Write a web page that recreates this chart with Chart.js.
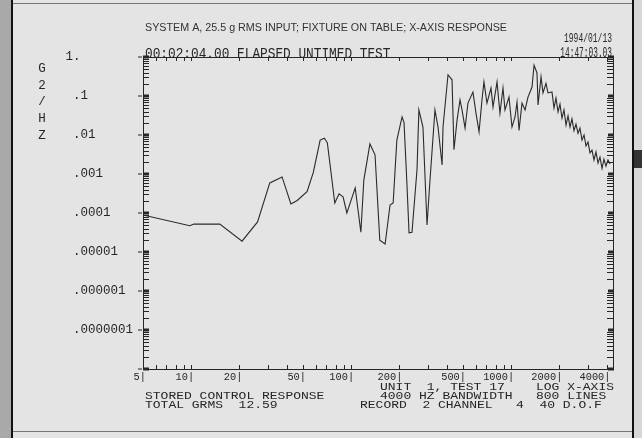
<!DOCTYPE html>
<html>
<head>
<meta charset="utf-8">
<script src="https://cdn.jsdelivr.net/npm/chart.js@4/dist/chart.umd.min.js"></script>
<style>
html, body { margin: 0; padding: 0; background: #e4e4e4; overflow: hidden; }
canvas { display: block; }
</style>
</head>
<body>
<canvas id="psdChart" width="642" height="438"></canvas>
<script>
// frequency (Hz) and PSD (g^2/Hz)
const freqs = [5, 9.8, 10.4, 15.1, 20.8, 26, 31, 37, 42, 46, 53, 58, 64, 68, 71, 79, 84, 89, 94, 106,
  115, 120, 131, 141, 151, 163, 175, 183, 193, 208, 214, 223, 230, 240, 258, 265, 281, 298, 311, 334,
  349, 370, 375, 403, 427, 439, 459, 479, 493, 515, 537, 577, 603, 630, 657, 676, 706, 748, 770, 816,
  851, 889, 915, 969, 1012, 1057, 1088, 1120, 1169, 1221, 1274, 1350, 1390, 1450, 1472, 1537, 1581, 1651, 1699, 1799,
  1853, 1906, 1963, 2019, 2078, 2139, 2203, 2267, 2333, 2398, 2470, 2542, 2617, 2691, 2772, 2854, 2937, 3022, 3110, 3200,
  3294, 3390, 3490, 3590, 3698, 3801, 3913, 4028, 4148];
const psd = [8.9e-5, 4.7e-5, 5.2e-5, 5.2e-5, 1.9e-5, 5.9e-5, 5.9e-4, 8.4e-4, 1.7e-4, 2.1e-4, 3.5e-4, 1.1e-3, 7.4e-3, 8.3e-3, 6.3e-3, 1.8e-4, 3.1e-4, 2.6e-4, 1.0e-4, 4.4e-4,
  3.2e-5, 7e-4, 5.9e-3, 3.1e-3, 2e-5, 1.6e-5, 1.6e-4, 1.8e-4, 7.4e-3, 0.029, 0.021, 5.9e-4, 3.1e-5, 3.2e-5, 1.3e-3, 0.044, 0.016, 4.9e-5, 7e-4, 0.044,
  0.016, 1.7e-3, 0.016, 0.35, 0.26, 4.2e-3, 0.024, 0.079, 0.044, 0.015, 0.066, 0.126, 0.036, 0.012, 0.079, 0.23, 0.066, 0.16, 0.052, 0.23,
  0.036, 0.16, 0.044, 0.094, 0.016, 0.029, 0.07, 0.013, 0.066, 0.044, 0.094, 0.17, 0.62, 0.39, 0.059, 0.31, 0.12, 0.21, 0.12, 0.127,
  0.049, 0.089, 0.039, 0.062, 0.027, 0.044, 0.018, 0.031, 0.016, 0.026, 0.013, 0.019, 0.011, 0.015, 7.4e-3, 0.01, 5.2e-3, 6.6e-3, 3.5e-3, 4.1e-3,
  2.3e-3, 3.7e-3, 1.9e-3, 2.7e-3, 1.4e-3, 2.4e-3, 1.6e-3, 2.3e-3, 1.8e-3];

const xTicks = [5, 10, 20, 50, 100, 200, 500, 1000, 2000, 4000];
const yTicks = [1, 0.1, 0.01, 0.001, 0.0001, 0.00001, 0.000001, 0.0000001];
const yTickLabels = ['1.', '.1', '.01', '.001', '.0001', '.00001', '.000001', '.0000001'];
const yTitle = ['G', '2', '/', 'H', 'Z'];

const MONO = '"Liberation Mono", "DejaVu Sans Mono", monospace';
const INK = '#262626';

// draw monospace text stretched to a fixed character pitch
function monoText(ctx, s, x, y, pitch, size, align) {
  ctx.save();
  ctx.font = size + 'px ' + MONO;
  const adv = ctx.measureText(s).width / s.length;
  let left = x;
  if (align === 'right') left = x - pitch * s.length;
  if (align === 'center') left = x - pitch * s.length / 2;
  ctx.translate(left, y);
  ctx.scale(pitch / adv, 1);
  ctx.textAlign = 'left';
  ctx.textBaseline = 'alphabetic';
  ctx.fillStyle = INK;
  ctx.fillText(s, 0, 0);
  ctx.restore();
}

const plotterDecor = {
  id: 'plotterDecor',
  beforeDraw(chart) {
    const ctx = chart.ctx;
    ctx.save();
    ctx.fillStyle = '#e4e4e4';
    ctx.fillRect(0, 0, 642, 438);
    ctx.fillStyle = '#a9a9a9';
    ctx.fillRect(0, 0, 11, 438);
    ctx.fillStyle = '#111';
    ctx.fillRect(11, 0, 2, 438);
    ctx.fillRect(632, 0, 2, 438);
    ctx.fillStyle = '#d8d8d8';
    ctx.fillRect(634, 0, 8, 438);
    ctx.fillStyle = '#333';
    ctx.fillRect(634, 150, 8, 18);
    ctx.fillStyle = '#777';
    ctx.fillRect(13, 3, 619, 1);
    ctx.fillRect(13, 431, 619, 1);
    ctx.restore();
  },
  afterDraw(chart) {
    const ctx = chart.ctx;
    const xs = chart.scales.x, ys = chart.scales.y;
    const a = chart.chartArea;
    ctx.save();
    ctx.strokeStyle = INK;
    ctx.fillStyle = INK;
    ctx.lineWidth = 1;
    ctx.strokeRect(a.left + 0.5, a.top + 0.5, a.right - a.left, a.bottom - a.top);

    // y ticks: minor marks inside both side axes, blocks at decades
    ctx.beginPath();
    for (let e = -8; e <= 0; e++) {
      for (let k = 1; k <= 9; k++) {
        const v = k * Math.pow(10, e);
        if (v > 1) break;
        const py = Math.round(ys.getPixelForValue(v)) + 0.5;
        if (k === 1) {
          ctx.fillRect(a.left, py - 2, 6, 3);
          ctx.fillRect(a.right - 5, py - 2, 6, 3);
          ctx.fillRect(a.left - 5, py - 1, 4, 1);
        } else {
          ctx.moveTo(a.left, py); ctx.lineTo(a.left + 6, py);
          ctx.moveTo(a.right, py); ctx.lineTo(a.right - 6, py);
        }
      }
    }
    // x ticks on top and bottom axes
    for (let e = 0; e <= 3; e++) {
      for (let k = 1; k <= 9; k++) {
        const v = k * Math.pow(10, e);
        if (v < xs.min || v > xs.max) continue;
        const px = Math.round(xs.getPixelForValue(v)) + 0.5;
        ctx.moveTo(px, a.bottom); ctx.lineTo(px, a.bottom - 4);
        ctx.moveTo(px, a.top); ctx.lineTo(px, a.top + 4);
      }
    }
    ctx.stroke();

    // y tick labels, decimal points lined up
    yTicks.forEach((v, i) => {
      const py = ys.getPixelForValue(v);
      const lab = yTickLabels[i];
      const dot = lab.indexOf('.');
      monoText(ctx, lab, 73 - dot * 7.5, py + 3, 7.5, 12);
    });
    // y title
    yTitle.forEach((ch, i) => monoText(ctx, ch, 42, 72 + i * 16.7, 7.5, 12, 'center'));
    // x tick labels with plotter bar at the tick
    xTicks.forEach(v => {
      const px = xs.getPixelForValue(v);
      monoText(ctx, v + '|', px + 3, 380, 6.2, 11, 'right');
    });

    // header
    ctx.save();
    ctx.font = '10px "Liberation Sans", Arial, sans-serif';
    const title = 'SYSTEM A, 25.5 g RMS INPUT; FIXTURE ON TABLE; X-AXIS RESPONSE';
    const tw = ctx.measureText(title).width;
    ctx.translate(145, 31);
    ctx.scale(362 / tw, 1);
    ctx.fillStyle = '#333';
    ctx.fillText(title, 0, 0);
    ctx.restore();
    monoText(ctx, '00:02:04.00 ELAPSED UNTIMED TEST', 145, 58, 7.67, 15);
    monoText(ctx, '1994/01/13', 612, 42, 4.8, 13, 'right');
    monoText(ctx, '14:47:03.03', 612, 57, 4.7, 14, 'right');

    // footer
    monoText(ctx, 'UNIT  1, TEST 17    LOG X-AXIS', 380, 390, 7.8, 10.5);
    monoText(ctx, 'STORED CONTROL RESPONSE', 145, 399, 7.8, 10.5);
    monoText(ctx, '4000 HZ BANDWIDTH   800 LINES', 380, 399, 7.8, 10.5);
    monoText(ctx, 'TOTAL GRMS  12.59', 145, 408, 7.8, 10.5);
    monoText(ctx, 'RECORD  2 CHANNEL   4  40 D.O.F', 360, 408, 7.8, 10.5);
    ctx.restore();
  }
};

const zeroSize = scale => { scale.width = 0; scale.height = 0; };

new Chart(document.getElementById('psdChart'), {
  type: 'line',
  data: {
    datasets: [{
      data: freqs.map((f, i) => ({ x: f, y: psd[i] })),
      borderColor: '#2a2a2a',
      borderWidth: 1.1,
      pointRadius: 0,
      tension: 0,
      fill: false
    }]
  },
  options: {
    responsive: false,
    animation: false,
    devicePixelRatio: 1,
    layout: { padding: { left: 143, top: 57, right: 29, bottom: 69 } },
    plugins: { legend: { display: false }, tooltip: { enabled: false } },
    scales: {
      x: { type: 'logarithmic', min: 5, max: 4330, display: false, afterFit: zeroSize },
      y: { type: 'logarithmic', min: 1e-8, max: 1, display: false, afterFit: zeroSize }
    }
  },
  plugins: [plotterDecor]
});
</script>
</body>
</html>
